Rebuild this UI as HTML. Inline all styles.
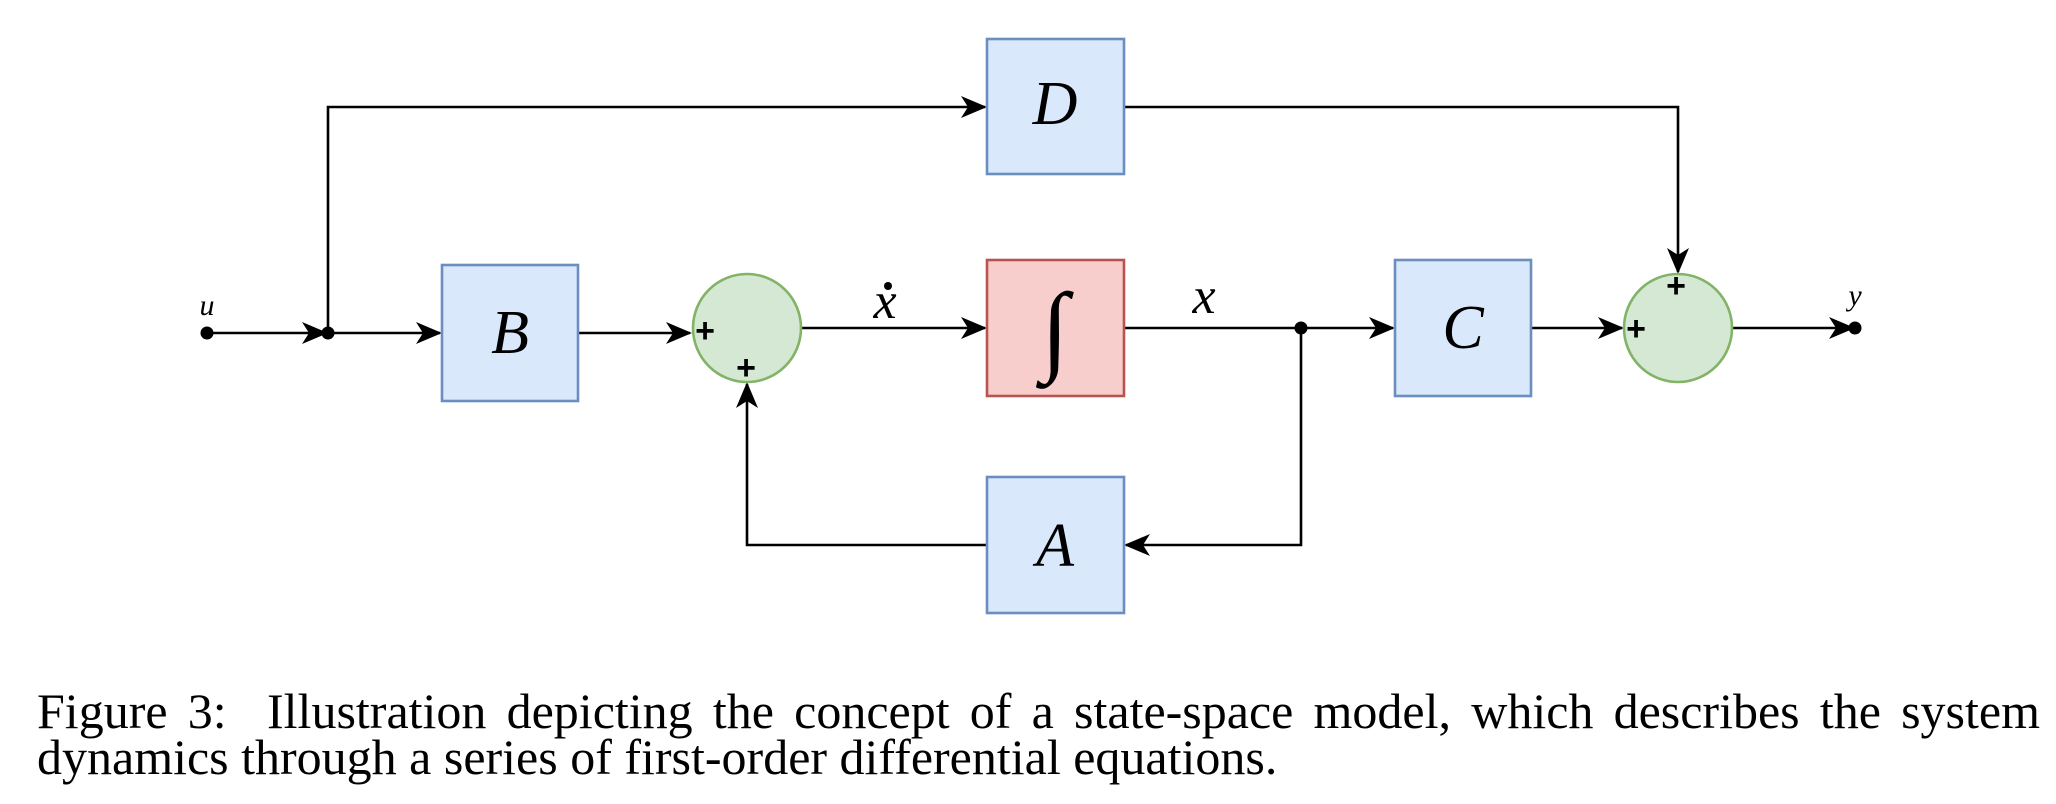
<!DOCTYPE html>
<html><head><style>
html,body{margin:0;padding:0;background:#fff;}
body{width:2056px;height:804px;position:relative;overflow:hidden;}
svg{position:absolute;left:0;top:0;}
.cap{position:absolute;left:37px;width:2003px;font-family:"Liberation Serif",serif;font-size:50px;line-height:46px;top:688px;text-align:left;color:#000;white-space:nowrap;}
.cap .l1{display:block;text-align:justify;text-align-last:justify;white-space:normal;}
</style></head><body>
<svg width="2056" height="804" viewBox="0 0 2056 804">
<g stroke="#000" stroke-width="2.6" fill="none">
<line x1="207" y1="333" x2="326" y2="333"/>
<line x1="328" y1="333" x2="440" y2="333"/>
<polyline points="328,333 328,107 985,107"/>
<line x1="578" y1="333" x2="690" y2="333"/>
<line x1="801" y1="328" x2="985" y2="328"/>
<line x1="1124" y1="328" x2="1393" y2="328"/>
<line x1="1531" y1="328" x2="1622" y2="328"/>
<line x1="1732" y1="328" x2="1855" y2="328"/>
<polyline points="1124,107 1678,107 1678,272"/>
<polyline points="1301,328 1301,545 1126,545"/>
<polyline points="987,545 747,545 747,384"/>
</g>
<g fill="#000">
<path d="M328,333 l-26,-11 l7,11 l-7,11 z"/>
<path d="M442,333 l-26,-11 l7,11 l-7,11 z"/>
<path d="M692,333 l-26,-11 l7,11 l-7,11 z"/>
<path d="M987,107 l-26,-11 l7,11 l-7,11 z"/>
<path d="M987,328 l-26,-11 l7,11 l-7,11 z"/>
<path d="M1395,328 l-26,-11 l7,11 l-7,11 z"/>
<path d="M1624,328 l-26,-11 l7,11 l-7,11 z"/>
<path d="M1855,328 l-26,-11 l7,11 l-7,11 z"/>
<path d="M1124,545 l26,-11 l-7,11 l7,11 z"/>
<path d="M1678,274 l-11,-26 l11,7 l11,-7 z"/>
<path d="M747,382 l-11,26 l11,-7 l11,7 z"/>
<circle cx="207" cy="333" r="6.5"/>
<circle cx="328" cy="333" r="6.5"/>
<circle cx="1301" cy="328" r="6.5"/>
<circle cx="1855" cy="328" r="6.5"/>
<circle cx="888" cy="286" r="4"/>
</g>
<g stroke-width="2.6">
<rect x="987" y="39" width="137" height="135" fill="#dae8fc" stroke="#6c8ebf"/>
<rect x="442" y="265" width="136" height="136" fill="#dae8fc" stroke="#6c8ebf"/>
<rect x="987" y="260" width="137" height="136" fill="#f8cecc" stroke="#b85450"/>
<rect x="1395" y="260" width="136" height="136" fill="#dae8fc" stroke="#6c8ebf"/>
<rect x="987" y="477" width="137" height="136" fill="#dae8fc" stroke="#6c8ebf"/>
<circle cx="747" cy="328" r="54" fill="#d5e8d4" stroke="#82b366"/>
<circle cx="1678" cy="328" r="54" fill="#d5e8d4" stroke="#82b366"/>
</g>
<g font-family="Liberation Serif, serif" font-style="italic" text-anchor="middle" fill="#000">
<text x="1055" y="124" font-size="62">D</text>
<text x="510" y="353" font-size="62">B</text>
<text x="1463" y="348" font-size="62">C</text>
<text x="1055" y="566" font-size="62">A</text>
<text x="1055" y="362" font-size="100">∫</text>
<text x="885" y="318" font-size="52">x</text>
<text x="1204" y="313" font-size="52">x</text>
<text x="207" y="315" font-size="30">u</text>
<text x="1855" y="305" font-size="30">y</text>
</g>
<g font-family="Liberation Sans, sans-serif" font-size="34" font-weight="bold" text-anchor="middle" fill="#000">
<text x="705" y="342">+</text>
<text x="746" y="379">+</text>
<text x="1676" y="297">+</text>
<text x="1636" y="340">+</text>
</g>
</svg>
<div class="cap"><span class="l1">Figure 3:&nbsp; Illustration depicting the concept of a state-space model, which describes the system</span>dynamics through a series of first-order differential equations.</div>
</body></html>
